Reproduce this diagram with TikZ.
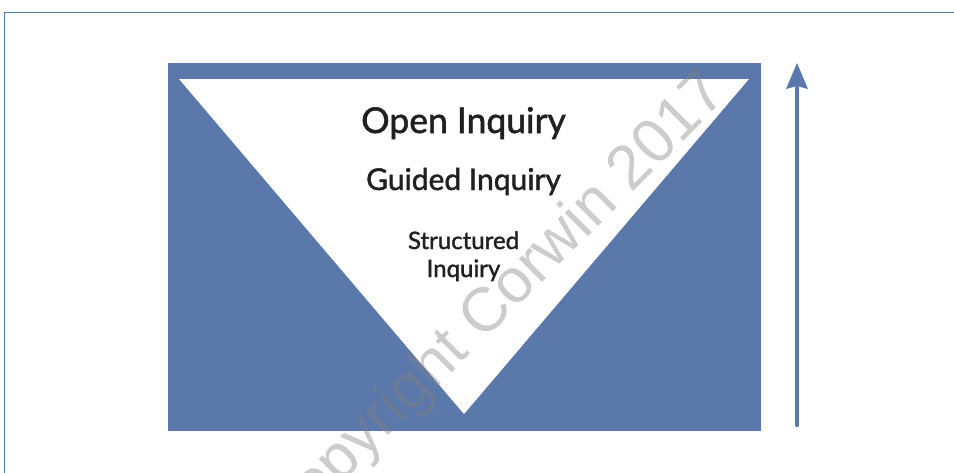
\documentclass[tikz,border=0pt]{standalone}
\usepackage{fontspec}
\setmainfont{Lato}
\newfontface\lblfont{Lato}[FakeBold=1.5]
\newfontfamily\wmfont{Liberation Sans}
\definecolor{boxblue}{HTML}{5A78AA}
\definecolor{frameblue}{HTML}{4F77B5}
\definecolor{inktext}{HTML}{231F20}
\tikzset{
  lbl/.style={anchor=base, text=inktext, inner sep=0pt},
}
\begin{document}
\begin{tikzpicture}[x=1pt,y=-1pt]
\useasboundingbox (0,0) rectangle (954,472);
\fill[white] (0,0) rectangle (954,472);
% frame
\draw[frameblue, line width=1pt] (4.5,480) -- (4.5,12) -- (960,12);
% blue box and triangle
\fill[boxblue] (168,63) rectangle (761,431);
\fill[white] (179,79) -- (749,79) -- (464,414) -- cycle;
% arrow
\coordinate (abot) at (797,425);
\coordinate (atop) at (797,88);
\draw[boxblue, line width=4.5pt, line cap=round] (abot) -- (atop);
\fill[boxblue] (797,63) -- (808,89) -- (797,86) -- (786,89) -- cycle;
% labels
\node[lbl, font=\lblfont\fontsize{35.5}{35.5}\selectfont] (open) at (463.5,133) {Open Inquiry};
\node[lbl, font=\lblfont\fontsize{30}{30}\selectfont] (guided) at (463.5,190) {Guided Inquiry};
\node[lbl, font=\lblfont\fontsize{24}{24}\selectfont] (struct) at (463.5,249) {Structured};
\node[lbl, font=\lblfont\fontsize{24}{24}\selectfont] (inq) at (463.5,277) {Inquiry};
% watermark
\node[rotate=45, text=gray, opacity=0.4, inner sep=0pt, font=\wmfont\fontsize{62}{62}\selectfont] (wm) at (495,307) {Copyright Corwin 2017};
\end{tikzpicture}
\end{document}
